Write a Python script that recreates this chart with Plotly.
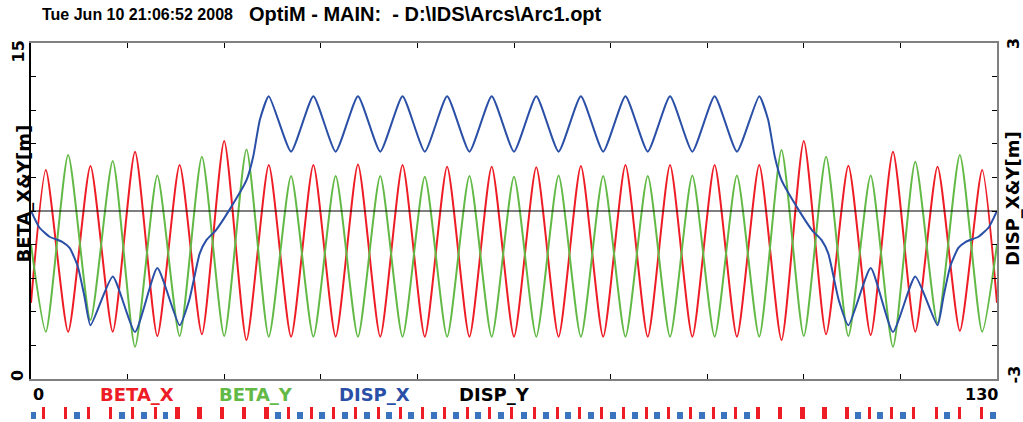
import plotly.graph_objects as go

# ---------------- data ----------------
s_beta = [0, 2, 5, 8, 11, 14, 17, 20, 23, 26, 29, 32, 35, 38, 41, 44, 47, 50, 53, 56,
          59, 62, 65, 68, 71, 74, 77, 80, 83, 86, 89, 92, 95, 98, 101, 104, 107, 110,
          113, 116, 119, 122, 125, 128, 130]
beta_x = [3.4, 9.33, 2.11, 9.51, 2.11, 10.15, 1.92, 9.55, 2.00, 10.63, 1.74, 9.55, 1.89,
          9.55, 1.89, 9.58, 1.89, 9.55, 1.89, 9.48, 1.89, 9.48, 1.89, 9.45, 1.89, 9.51,
          1.89, 9.55, 1.89, 9.55, 1.89, 9.55, 1.89, 9.55, 1.74, 10.63, 2.00, 9.52, 1.96,
          10.15, 2.11, 9.48, 2.15, 9.33, 3.4]
beta_y = [6.0, 2.11, 10.0, 2.63, 9.73, 1.44, 9.08, 1.92, 9.92, 1.92, 10.25, 1.89, 9.06,
          1.89, 9.06, 1.89, 9.06, 1.89, 9.03, 1.89, 9.06, 1.89, 9.03, 1.89, 9.08, 1.89,
          9.06, 1.89, 9.06, 1.89, 9.08, 1.89, 9.08, 1.89, 10.22, 1.92, 9.92, 1.92, 9.08,
          1.44, 9.70, 2.50, 10.0, 2.11, 6.0]

s_disp = [0, 1.1, 2.5, 4.2, 5.2, 6.3, 7.2, 8.0, 11.0, 14.0, 17.0, 20.0, 21.3, 22.7, 23.6,
          24.9, 26.7, 29.0, 29.9, 30.8, 32, 35, 38, 41, 44, 47, 50, 53, 56, 59, 62, 65,
          68, 71, 74, 77, 80, 83, 86, 89, 92, 95, 98, 99.2, 100.1, 101.0, 103.3, 105.1,
          106.4, 107.3, 108.7, 110.0, 113.0, 116.0, 119.0, 122.0, 122.8, 123.7, 124.8,
          125.8, 127.5, 128.9, 130]
disp_x = [0.0, -0.29, -0.46, -0.55, -0.66, -0.99, -1.53, -2.04, -1.17, -2.16, -1.02, -2.04,
          -1.59, -0.76, -0.52, -0.34, 0.02, 0.55, 0.97, 1.63, 2.05, 1.06, 2.05, 1.06, 2.05,
          1.06, 2.05, 1.06, 2.05, 1.06, 2.05, 1.06, 2.05, 1.06, 2.05, 1.06, 2.05, 1.06,
          2.05, 1.06, 2.05, 1.06, 2.05, 1.63, 0.97, 0.55, 0.02, -0.34, -0.52, -0.76, -1.59,
          -2.04, -1.02, -2.16, -1.17, -2.04, -1.53, -0.99, -0.66, -0.55, -0.46, -0.29, 0.0]

s_dispy = [0, 130]
disp_y = [0.0, 0.0]

# lattice elements (s positions)
quads = [1.7, 4.7, 7.7, 10.7, 13.7, 16.7, 34.7, 37.7, 40.7, 43.7, 46.7, 49.7, 52.7, 55.7,
         58.7, 61.7, 64.7, 67.8, 70.8, 73.8, 76.8, 79.8, 82.8, 85.8, 88.8, 91.8, 94.8,
         112.8, 115.8, 118.8, 121.9, 124.9, 127.9]
quads_long = [19.7, 22.7, 25.7, 28.7, 31.7, 97.8, 100.8, 103.8, 106.8, 109.8]
dipoles = [0.25, 6.2, 12.2, 15.2, 18.1, 33.2, 36.2, 39.2, 42.2, 45.2, 48.2, 51.2, 54.2,
           57.2, 60.2, 63.2, 66.3, 69.3, 72.3, 75.3, 78.3, 81.3, 84.3, 87.3, 90.3, 93.3,
           96.3, 111.3, 114.3, 117.3, 123.3, 129.4]

series_names = ["BETA_X", "BETA_Y", "DISP_X", "DISP_Y"]
title_date = "Tue Jun 10 21:06:52 2008"
title_file = "OptiM - MAIN:\u00a0 - D:\\IDS\\Arcs\\Arc1.opt"

# ---------------- styling ----------------
RED = "#EE1C25"
GREEN = "#62B946"
BLUE = "#2A4FA6"
ELEM_BLUE = "#3A74BF"

W, H = 1023, 422
L, R = 31, 26
PW = W - L - R


def py(p):
    return (H - p) / H


def px(p):
    return (p - L) / PW


fig = go.Figure()
fig.add_trace(go.Scatter(x=s_beta, y=beta_x, mode="lines", name=series_names[0],
                         line=dict(color=RED, width=2, shape="spline", smoothing=0.6),
                         xaxis="x", yaxis="y"))
fig.add_trace(go.Scatter(x=s_beta, y=beta_y, mode="lines", name=series_names[1],
                         line=dict(color=GREEN, width=2, shape="spline", smoothing=0.6),
                         xaxis="x", yaxis="y"))
fig.add_trace(go.Scatter(x=s_dispy, y=disp_y, mode="lines", name=series_names[3],
                         line=dict(color="black", width=1.2), xaxis="x", yaxis="y2"))
fig.add_trace(go.Scatter(x=s_disp, y=disp_x, mode="lines", name=series_names[2],
                         line=dict(color=BLUE, width=2, shape="spline", smoothing=0.5),
                         xaxis="x", yaxis="y2"))

# element strip
fig.add_trace(go.Bar(x=dipoles, y=[0.6] * len(dipoles), base=0, width=0.8,
                     marker=dict(color=ELEM_BLUE, line=dict(width=0)), xaxis="x", yaxis="y3"))
fig.add_trace(go.Bar(x=quads, y=[1] * len(quads), base=0, width=0.4,
                     marker=dict(color=RED, line=dict(width=0)), xaxis="x", yaxis="y3"))
fig.add_trace(go.Bar(x=quads_long, y=[1] * len(quads_long), base=0, width=0.6,
                     marker=dict(color=RED, line=dict(width=0)), xaxis="x", yaxis="y3"))

fig.update_layout(
    width=W, height=H,
    margin=dict(l=L, r=R, t=0, b=0, pad=0),
    paper_bgcolor="white", plot_bgcolor="white",
    showlegend=False, barmode="overlay", bargap=0,
    xaxis=dict(domain=[0, 1], range=[0, 130], anchor="y", showgrid=False, zeroline=False,
               showline=True, linecolor="#808080", linewidth=2, mirror="ticks",
               ticks="inside", ticklen=5, tickcolor="black", tickwidth=1,
               tickvals=[13 * i for i in range(11)], showticklabels=False),
    yaxis=dict(domain=[py(379), py(43)], range=[0, 15], showgrid=False, zeroline=False,
               showline=True, linecolor="black", linewidth=2,
               ticks="inside", ticklen=5, tickcolor="black", tickwidth=1,
               tickvals=[1.5 * i for i in range(11)], showticklabels=False),
    yaxis2=dict(overlaying="y", side="right", anchor="x", range=[-3, 3], showgrid=False,
                zeroline=False, showline=True, linecolor="#808080", linewidth=2,
                ticks="inside", ticklen=5, tickcolor="black", tickwidth=1,
                tickvals=[-3 + 0.6 * i for i in range(11)], showticklabels=False),
    yaxis3=dict(domain=[py(419), py(407)], range=[0, 1], anchor="x", visible=False,
                fixedrange=True),
)

ann = []
WORD = dict(family="DejaVu Sans", size=18)
NUM = dict(family="DejaVu Sans", size=16, color="black")

# title (two pieces)
ann.append(dict(text="<b>" + title_date + "</b>", xref="paper", yref="paper",
                x=px(40), y=py(14), xanchor="left", yanchor="middle", showarrow=False,
                font=dict(family="Liberation Sans", size=16, color="black")))
ann.append(dict(text="<b>" + title_file + "</b>", xref="paper", yref="paper",
                x=px(247), y=py(14), xanchor="left", yanchor="middle", showarrow=False,
                font=dict(family="Liberation Sans", size=20, color="black")))
# left axis labels
ann.append(dict(text="<b>15</b>", xref="paper", yref="paper", x=px(29), y=py(39),
                xanchor="right", yanchor="top", textangle=-90, showarrow=False, font=NUM))
ann.append(dict(text="<b>0</b>", xref="paper", yref="paper", x=px(29), y=py(383),
                xanchor="right", yanchor="bottom", textangle=-90, showarrow=False, font=NUM))
ann.append(dict(text="<b>BETA_X&Y[m]</b>", xref="paper", yref="paper", x=px(22.5), y=py(194),
                xanchor="center", yanchor="middle", textangle=-90, showarrow=False,
                font=dict(WORD, color="black")))
# right axis labels
ann.append(dict(text="<b>3</b>", xref="paper", yref="paper", x=px(1002), y=py(36),
                xanchor="left", yanchor="top", textangle=-90, showarrow=False, font=NUM))
ann.append(dict(text="<b>-3</b>", xref="paper", yref="paper", x=px(1002), y=py(386),
                xanchor="left", yanchor="bottom", textangle=-90, showarrow=False, font=NUM))
ann.append(dict(text="<b>DISP_X&Y[m]</b>", xref="paper", yref="paper", x=px(1012), y=py(199),
                xanchor="center", yanchor="middle", textangle=-90, showarrow=False,
                font=dict(WORD, color="black")))
# bottom labels
ann.append(dict(text="<b>0</b>", xref="paper", yref="paper", x=px(31), y=py(394),
                xanchor="left", yanchor="middle", showarrow=False, font=NUM))
ann.append(dict(text="<b>130</b>", xref="paper", yref="paper", x=px(1000), y=py(394),
                xanchor="right", yanchor="middle", showarrow=False, font=NUM))
for name, col, left in zip(series_names, [RED, GREEN, BLUE, "black"], [98, 217, 337, 457]):
    ann.append(dict(text="<b>" + name + "</b>", xref="paper", yref="paper", x=px(left),
                    y=py(394), xanchor="left", yanchor="middle", showarrow=False,
                    font=dict(WORD, color=col)))

fig.update_layout(annotations=ann)
fig.write_html("out.html", config={"displayModeBar": False},
               post_script="document.body.style.margin='0';document.body.style.overflow='hidden';")
